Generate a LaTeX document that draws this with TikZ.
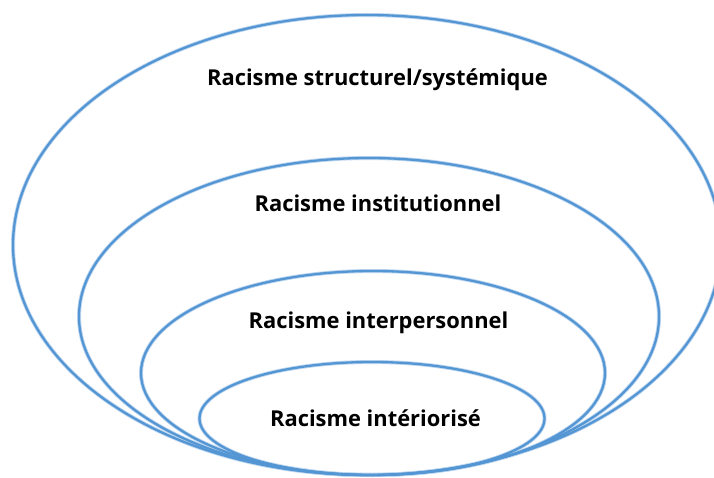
\documentclass[tikz,border=0pt]{standalone}
\usepackage{fontspec}
\setmainfont{Open Sans}
\definecolor{ringblue}{RGB}{84,150,212}
\definecolor{ringglow}{RGB}{190,215,240}
\begin{document}
\begin{tikzpicture}[x=1pt,y=-1pt,
  ring/.style={draw=ringblue,line width=2.3pt},
  glow/.style={draw=ringglow,line width=4pt},
  lbl/.style={font=\fontsize{21.9}{26}\selectfont\bfseries,text=black,anchor=base,inner sep=0pt}]
\useasboundingbox (0,0) rectangle (714,478);
% glow under rings
\draw[glow] (367,245) ellipse [x radius=354,y radius=230];
\draw[glow] (369,316.5) ellipse [x radius=290,y radius=158.5];
\draw[glow] (373,373) ellipse [x radius=232,y radius=102];
\draw[glow] (372,418.5) ellipse [x radius=172.5,y radius=56.5];
% rings
\draw[ring] (367,245) ellipse [x radius=354,y radius=230];
\draw[ring] (369,316.5) ellipse [x radius=290,y radius=158.5];
\draw[ring] (373,373) ellipse [x radius=232,y radius=102];
\draw[ring] (372,418.5) ellipse [x radius=172.5,y radius=56.5];
% labels
\node[lbl] (s) at (377.5,85.7) {Racisme structurel/systémique};
\node[lbl] (i) at (378,212) {Racisme institutionnel};
\node[lbl] (p) at (378.5,328) {Racisme interpersonnel};
\node[lbl] (r) at (375.5,426) {Racisme intériorisé};
\end{tikzpicture}
\end{document}
